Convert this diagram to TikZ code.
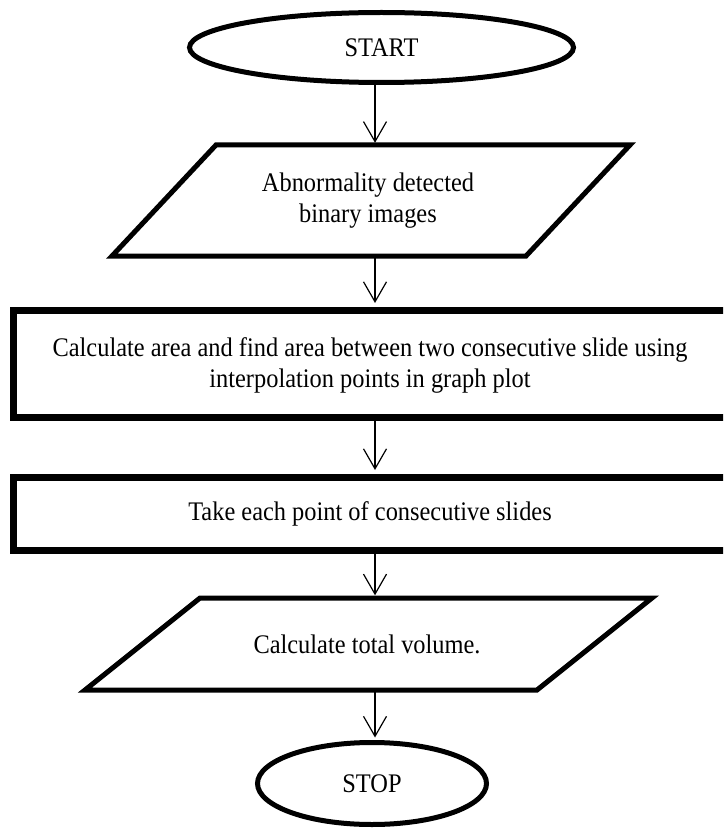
\documentclass[tikz,border=0pt]{standalone}
\usepackage{fontspec}
\usepackage{graphicx}
\setmainfont{Liberation Serif}
\usetikzlibrary{shapes.geometric,arrows.meta}
\newcommand{\tallt}[1]{\scalebox{1}[1.1]{#1}}
\begin{document}
\begin{tikzpicture}[x=1pt,y=-1pt,
  every node/.style={font=\fontsize{24.4}{31}\selectfont, inner sep=0pt},
  term/.style={ellipse, draw, line width=5pt},
  procbox/.style={rectangle, draw, line width=7pt},
  iobox/.style={line width=5pt, line join=miter},
  txt/.style={align=center},
  arr/.style={line width=1.2pt, -{Straight Barb[length=20pt,width=23pt]}}
]
\useasboundingbox (0,0) rectangle (723,829);
\clip (0,0) rectangle (723,829);
\fill[white] (0,0) rectangle (723,829);

% shapes
\node[term, minimum width=384pt, minimum height=70pt] (start) at (381.5,47.5) {\tallt{START}};

\node[txt, minimum height=111pt] (p1) at (368,201) {\tallt{Abnormality detected}\\\tallt{binary images}};
\draw[iobox] (216,145) -- (630,145) -- (526,256) -- (112,256) -- cycle;

\node[procbox, minimum width=727pt, minimum height=107pt] (b1) at (376.5,363.5) {};
\node[txt] (t1) at (370,365) {\tallt{Calculate area and find area between two consecutive slide using}\\\tallt{interpolation points in graph plot}};

\node[procbox, minimum width=727pt, minimum height=73pt] (b2) at (376.5,513.5) {};
\node[txt] (t2) at (370,514) {\tallt{Take each point of consecutive slides}};

\node[txt, minimum height=92pt] (p2) at (367,644) {\tallt{Calculate total volume.}};
\draw[iobox] (200,598) -- (652,598) -- (537,690) -- (85,690) -- cycle;

\node[term, minimum width=229pt, minimum height=82pt] (stop) at (372,783.5) {\tallt{STOP}};

% connectors
\coordinate (ax) at (375,0);
\draw[arr, shorten >=2.5pt] (ax |- start.south) -- (ax |- p1.north);
\draw[arr, shorten >=3.5pt] (ax |- p1.south) -- (ax |- b1.north);
\draw[arr, shorten >=3.5pt] (ax |- b1.south) -- (ax |- b2.north);
\draw[arr, shorten >=2.5pt] (ax |- b2.south) -- (ax |- p2.north);
\draw[arr, shorten >=2.5pt] (ax |- p2.south) -- (ax |- stop.north);
\end{tikzpicture}
\end{document}
